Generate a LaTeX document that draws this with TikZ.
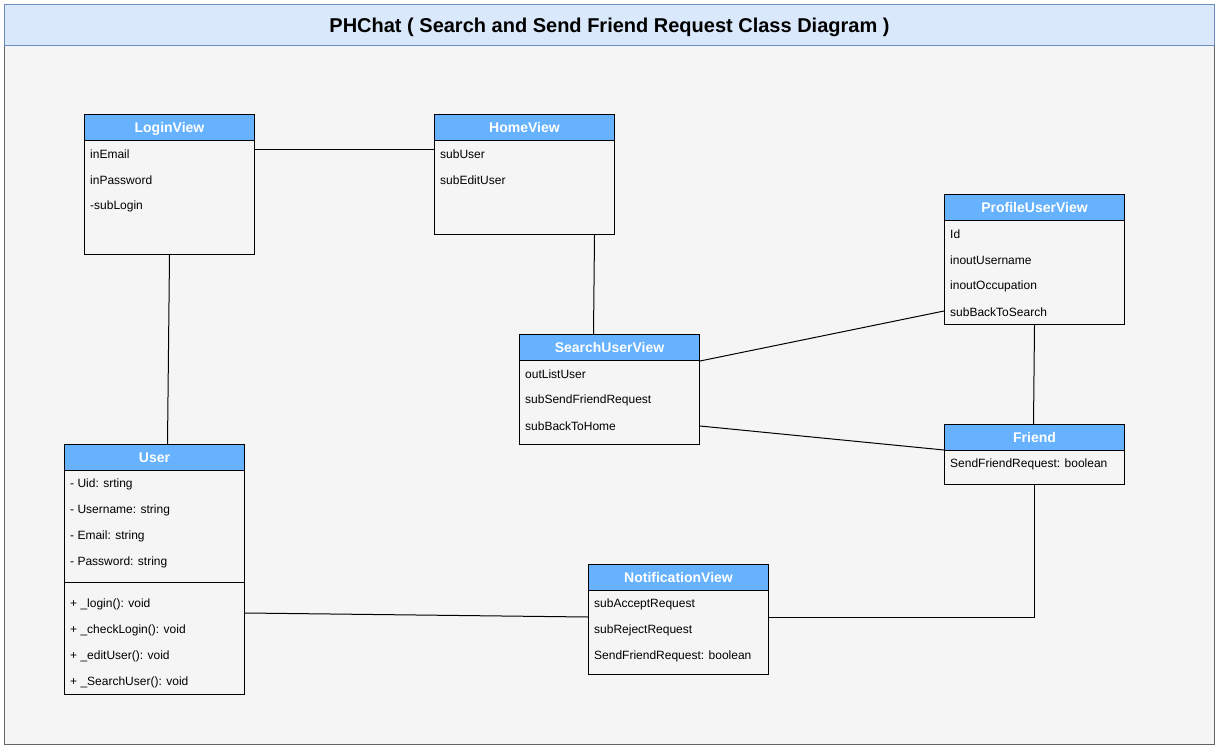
\documentclass[tikz,border=0pt]{standalone}
\usepackage{fontspec}
\setmainfont{Liberation Sans}
\usetikzlibrary{calc}
\definecolor{titlefill}{HTML}{DAE8FC}
\definecolor{titleline}{HTML}{6C8EBF}
\definecolor{panelfill}{HTML}{F5F5F5}
\definecolor{panelline}{HTML}{666666}
\definecolor{headfill}{HTML}{66B2FF}
\tikzset{
  classbox/.style={draw=black, line width=1pt, fill=panelfill, anchor=north west, inner sep=0pt},
  classhead/.style={draw=black, line width=1pt, fill=headfill, text=white, anchor=north west, inner sep=0pt, minimum height=26pt, text depth=0pt, font=\fontsize{14}{16}\selectfont\bfseries},
  member/.style={anchor=west, inner sep=0pt, font=\fontsize{12}{14}\selectfont},
  link/.style={draw=black, line width=1pt}
}
\begin{document}
\begin{tikzpicture}[x=1pt,y=-1pt]
\useasboundingbox (0,0) rectangle (1222,746);
% frame and title
\node[draw=panelline, fill=panelfill, line width=1pt, anchor=north west, inner sep=0pt, minimum width=1210pt, minimum height=699pt] (panel) at (4,45) {};
\node[draw=titleline, fill=titlefill, line width=1pt, anchor=north west, inner sep=0pt, minimum width=1210pt, minimum height=41pt, text depth=0pt, font=\fontsize{20}{24}\selectfont\bfseries] (title) at (4,4) {PHChat ( Search and Send Friend Request Class Diagram )};

% LoginView
\node[classbox, minimum width=170pt, minimum height=140pt] (login) at (84,114) {};
\node[classhead, minimum width=170pt] (loginh) at (84,114) {LoginView};
\node[member] (login1) at (90,154) {inEmail};
\node[member] (login2) at (90,180) {inPassword};
\node[member] (login3) at (90,206) {-subLogin};

% HomeView
\node[classbox, minimum width=180pt, minimum height=120pt] (home) at (434,114) {};
\node[classhead, minimum width=180pt] (homeh) at (434,114) {HomeView};
\node[member] (home1) at (440,154) {subUser};
\node[member] (home2) at (440,180) {subEditUser};

% ProfileUserView
\node[classbox, minimum width=180pt, minimum height=130pt] (profile) at (944,194) {};
\node[classhead, minimum width=180pt] (profileh) at (944,194) {ProfileUserView};
\node[member] (profile1) at (950,234) {Id};
\node[member] (profile2) at (950,260) {inoutUsername};
\node[member] (profile3) at (950,286) {inoutOccupation};
\node[member] (profile4) at (950,312) {subBackToSearch};

% SearchUserView
\node[classbox, minimum width=180pt, minimum height=110pt] (search) at (519,334) {};
\node[classhead, minimum width=180pt] (searchh) at (519,334) {SearchUserView};
\node[member] (search1) at (525,374) {outListUser};
\node[member] (search2) at (525,400) {subSendFriendRequest};
\node[member] (search3) at (525,426) {subBackToHome};

% Friend
\node[classbox, minimum width=180pt, minimum height=60pt] (friend) at (944,424) {};
\node[classhead, minimum width=180pt] (friendh) at (944,424) {Friend};
\node[member] (friend1) at (950,464) {SendFriendRequest: boolean};

% User
\node[classbox, minimum width=180pt, minimum height=250pt] (user) at (64,444) {};
\node[classhead, minimum width=180pt] (userh) at (64,444) {User};
\node[member] (user1) at (70,484) {- Uid: srting};
\node[member] (user2) at (70,510) {- Username: string};
\node[member] (user3) at (70,536) {- Email: string};
\node[member] (user4) at (70,562) {- Password: string};
\draw[link] ([yshift=-138]user.north west) -- ([yshift=-138]user.north east);
\node[member] (user5) at (70,604) {+ \_login(): void};
\node[member] (user6) at (70,630) {+ \_checkLogin(): void};
\node[member] (user7) at (70,656) {+ \_editUser(): void};
\node[member] (user8) at (70,682) {+ \_SearchUser(): void};

% NotificationView
\node[classbox, minimum width=180pt, minimum height=110pt] (notif) at (588,564) {};
\node[classhead, minimum width=180pt] (notifh) at (588,564) {NotificationView};
\node[member] (notif1) at (594,604) {subAcceptRequest};
\node[member] (notif2) at (594,630) {subRejectRequest};
\node[member] (notif3) at (594,656) {SendFriendRequest: boolean};

% connectors
\draw[link] ([yshift=-36]login.north east) -- ([yshift=-36]home.north west);
\draw[link] (login.south) -- ([xshift=13]user.north);
\draw[link] ([xshift=70]home.south) -- ([xshift=-16]search.north);
\draw[link] ([yshift=-27]search.north east) -- ([yshift=-117]profile.north west);
\draw[link] ([yshift=-92]search.north east) -- ([yshift=-26]friend.north west);
\draw[link] (profile.south) -- ([xshift=-1]friend.north);
\draw[link] (friend.south) |- ([yshift=-53]notif.north east);
\draw[link] ([yshift=-169]user.north east) -- ([yshift=-53]notif.north west);
\end{tikzpicture}
\end{document}
